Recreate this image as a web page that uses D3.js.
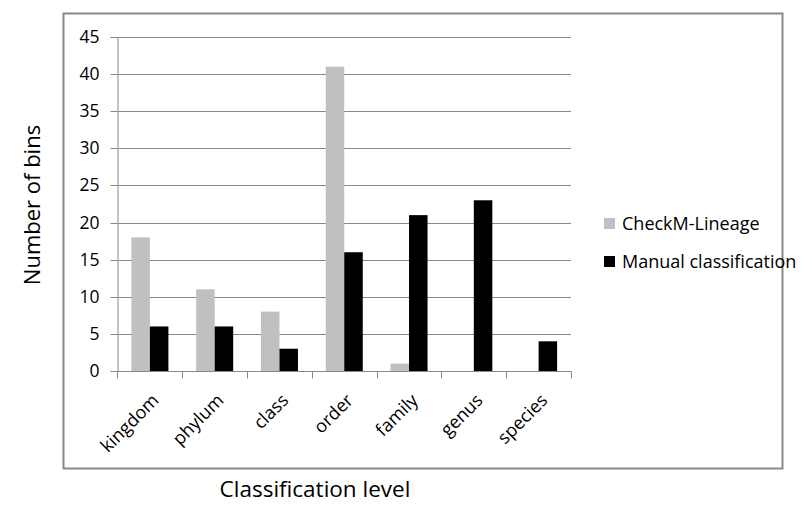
<!DOCTYPE html>
<html><head><meta charset="utf-8">
<script src="https://cdn.jsdelivr.net/npm/d3@7"></script>
<style>body{margin:0;background:#fff}svg{display:block}text{font-family:"Open Sans",sans-serif;fill:#000}</style>
</head><body><svg id="c" width="811" height="505"></svg>
<script>
const categories = ["kingdom","phylum","class","order","family","genus","species"];
const checkM = [18,11,8,41,1,0,0];
const manual = [6,6,3,16,21,23,4];
const seriesNames = ["CheckM-Lineage","Manual classification"];
const seriesColors = ["#c0c0c0","#000000"];
const yTicks = [0,5,10,15,20,25,30,35,40,45];

const FONT = "'Open Sans',sans-serif";
const svg = d3.select("#c");
svg.append("rect").attr("x",63.5).attr("y",13.5).attr("width",719).attr("height",455)
  .attr("fill","#fff").attr("stroke","#888").attr("stroke-width",2);

const x = d3.scaleBand().domain(categories).range([117.5,571]);
const y = d3.scaleLinear().domain([0,45]).range([371,37]);
const bw = x.bandwidth()/3.5;
const g = svg.append("g");
g.selectAll("line.grid").data(yTicks.filter(d=>d>0)).join("line")
  .attr("x1",117.5).attr("x2",571).attr("y1",d=>Math.round(y(d))+0.5).attr("y2",d=>Math.round(y(d))+0.5)
  .attr("stroke","#888").attr("stroke-width",1);
const data = [checkM, manual];
data.forEach((vals,si)=>{
  g.selectAll("rect.s"+si).data(vals).join("rect")
    .attr("x",(d,i)=>x(categories[i]) + x.bandwidth()/2 - bw + si*bw)
    .attr("width",bw)
    .attr("y",d=>y(d)).attr("height",d=>y(0)-y(d))
    .attr("fill",seriesColors[si]);
});
const yAxis = d3.axisLeft(y).tickValues(yTicks).tickSize(7).tickPadding(11);
const ya = svg.append("g").attr("transform","translate(117.5,0)").call(yAxis);
ya.select(".domain").attr("stroke","#888");
ya.selectAll(".tick line").attr("stroke","#888");
ya.selectAll(".tick text").attr("font-size",17.5).style("font-family",FONT).attr("fill","#000");
ya.selectAll(".tick").attr("transform",d=>`translate(0,${Math.round(y(d))+0.5})`);
const xa = svg.append("g").attr("transform","translate(0,371.5)");
xa.append("line").attr("x1",117.5).attr("x2",571).attr("stroke","#888");
const xt = [...categories.map(c=>x(c)), x.range()[1]];
xa.selectAll("line.t").data(xt).join("line").attr("x1",d=>Math.round(d)+0.5).attr("x2",d=>Math.round(d)+0.5)
  .attr("y1",0).attr("y2",7).attr("stroke","#888");
xa.selectAll("text.lab").data(categories).join("text")
  .attr("transform",c=>`translate(${x(c)+x.bandwidth()/2+10},30) rotate(-45)`)
  .attr("text-anchor","end").attr("font-size",18).text(c=>c);
svg.append("text").attr("transform","translate(40,205) rotate(-90)").attr("text-anchor","middle")
  .attr("font-size",22).text("Number of bins");
svg.append("text").attr("x",315).attr("y",497).attr("text-anchor","middle")
  .attr("font-size",22.5).text("Classification level");
const lg = svg.append("g").attr("transform","translate(604,0)");
seriesNames.forEach((n,i)=>{
  const yy = 230 + i*38;
  lg.append("rect").attr("x",0).attr("y",yy-12).attr("width",11).attr("height",11).attr("fill",seriesColors[i]);
  lg.append("text").attr("x",18).attr("y",yy).attr("font-size",18).text(n);
});
</script></body></html>
